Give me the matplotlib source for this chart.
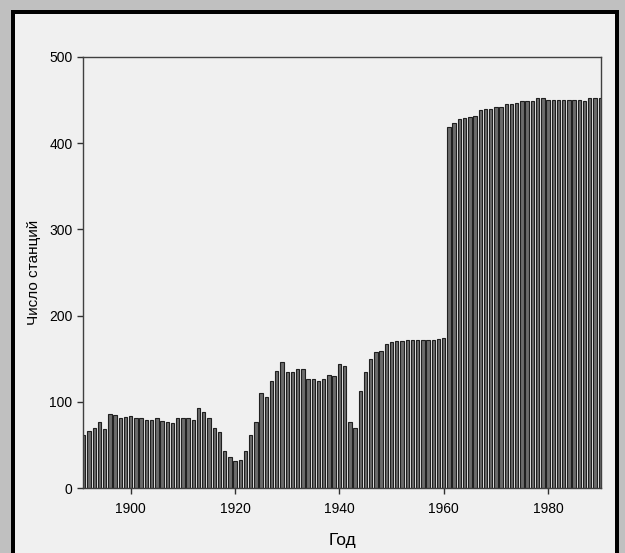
import matplotlib
matplotlib.use("Agg")
import matplotlib.pyplot as plt
from matplotlib.patches import Rectangle

years = list(range(1891, 1991))
stations = [62, 66, 70, 77, 69, 86, 85, 81, 82, 83,
            81, 81, 79, 79, 81, 78, 76, 75, 81, 81,
            81, 79, 93, 88, 81, 70, 65, 43, 36, 31,
            32, 43, 61, 76, 110, 105, 124, 136, 146, 134,
            134, 138, 138, 127, 126, 124, 126, 131, 130, 144,
            141, 77, 70, 113, 134, 150, 158, 159, 167, 169,
            170, 171, 172, 172, 172, 172, 172, 172, 173, 174,
            419, 424, 428, 429, 430, 432, 438, 440, 440, 442,
            442, 445, 445, 447, 449, 449, 449, 452, 452, 450,
            450, 450, 450, 450, 450, 450, 449, 452, 452, 452]
xticks = [1900, 1920, 1940, 1960, 1980]
yticks = [0, 100, 200, 300, 400, 500]

plt.rcParams['font.family'] = ['Liberation Sans', 'DejaVu Sans']

W, H = 625, 553
fig = plt.figure(figsize=(W / 100, H / 100), dpi=100)
fig.patch.set_facecolor('#c0c0c0')

def px_rect(x0, y0, x1, y1, color):
    fig.patches.append(Rectangle((x0 / W, 1 - y1 / H), (x1 - x0) / W, (y1 - y0) / H,
                                 transform=fig.transFigure, facecolor=color,
                                 edgecolor='none', zorder=-10))

px_rect(11, 10, 619, H + 5, '#000000')
px_rect(15, 14, 615, H + 5, '#f0f0f0')

ax = fig.add_axes([83 / W, 1 - 488 / H, (601 - 83) / W, (488 - 57) / H])
ax.set_facecolor('#f0f0f0')
ax.bar(years, stations, width=0.65, color='#6c6c6c', edgecolor='#202020', linewidth=0.8)
ax.set_xlim(1890.85, 1990.15)
ax.set_ylim(0, 500)
ax.set_xticks(xticks)
ax.set_yticks(yticks)
ax.tick_params(direction='out', length=4, width=1, colors='#303030', labelsize=10,
               labelcolor='black')
ax.tick_params(axis='x', pad=6)
for s in ax.spines.values():
    s.set_color('#404040')
    s.set_linewidth(1)
ax.set_xlabel('Год', fontsize=12.5, labelpad=12)
ax.set_ylabel('Число станций', fontsize=11, labelpad=6)

fig.savefig('out.png', dpi=100, facecolor=fig.get_facecolor())
